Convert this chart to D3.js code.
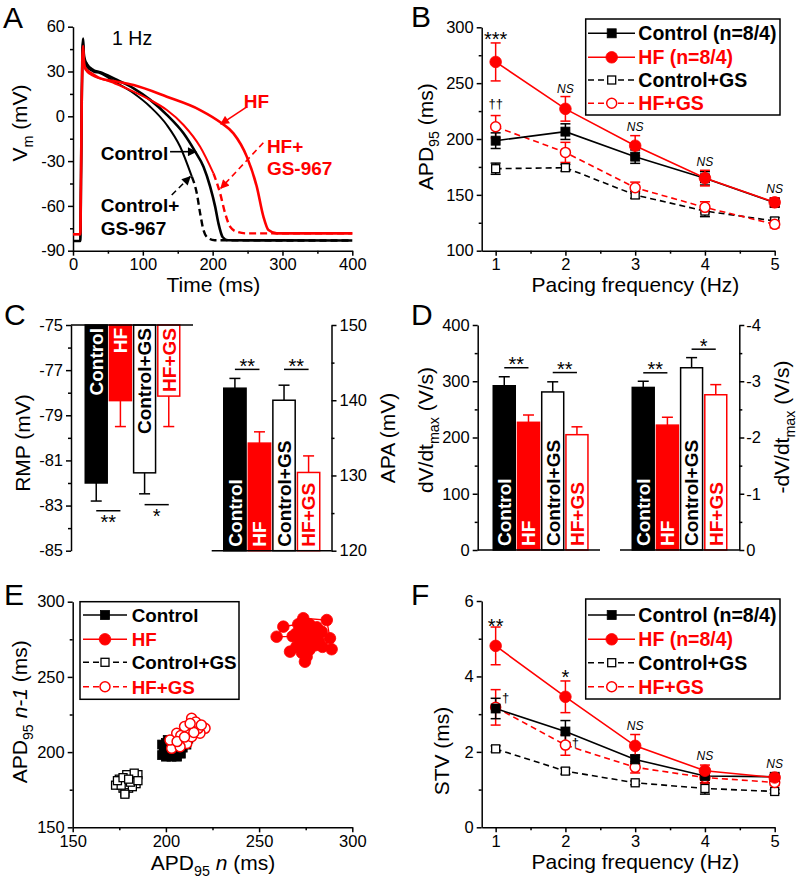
<!DOCTYPE html>
<html><head><meta charset="utf-8">
<script src="https://cdn.jsdelivr.net/npm/d3@7"></script>
<style>body{margin:0;background:#fff} svg{display:block}</style>
</head><body><svg id="chart" width="800" height="884"></svg>
<script>
// ================= DATA =================
// Panel A: action potential traces [time ms, Vm mV]
const traceControl = [[0,-83.5],[10.5,-83.5],[11.5,-40],[12.5,10],[13.5,45],[14.5,52],[15.5,42],[17,38],[20,35],[29,31],[39,29.5],[60,25],[86.8,18.7],[110.6,11],[134.4,1],[158.3,-11.4],[175,-23.7],[186.9,-33.8],[196.4,-47.1],[203.6,-60.5],[208.3,-71.7],[214.5,-81],[222,-83],[400,-83.2]];
const traceControlGS = [[0,-83.5],[10.5,-83.5],[11.5,-40],[12.5,10],[13.5,44],[14.5,50],[15.5,40],[17,36],[20,33],[29,30],[39,28.8],[60,23],[86.8,15.4],[110.6,6.4],[134.4,-5.8],[153.5,-20.4],[170.2,-40.4],[177.3,-51.6],[182.1,-65],[186.9,-76.2],[194,-81.7],[203,-83],[400,-83.2]];
const traceHF = [[0,-79],[10.5,-79],[11.5,-40],[12.5,10],[13.5,40],[14.5,47],[15.5,38],[17,33],[20,31],[29,28],[39,25.4],[60,23.5],[86.8,20.9],[134.4,13.1],[182.1,4.2],[213.1,-4.7],[229.8,-11.4],[248.9,-27],[263.2,-47.1],[272.7,-67.2],[279.9,-76.2],[291.8,-78.4],[400,-78.4]];
const traceHFGS = [[0,-79],[10.5,-79],[11.5,-40],[12.5,10],[13.5,38],[14.5,45],[15.5,36],[17,32],[20,30],[29,27],[39,25.4],[60,22],[86.8,16.5],[110.6,10.9],[134.4,4.2],[158.3,-5.8],[182.1,-20.4],[201.2,-38.2],[210.7,-51.6],[217.9,-65],[225,-73.9],[234.6,-77.3],[248.9,-78.4],[400,-78.4]];
const labelsA = [
  {t:"1 Hz", x:55.9, y:47.7, color:"#000", bold:false},
  {t:"HF", x:244.5, y:5.4, color:"#ff0000", bold:true},
  {t:"HF+", x:277.7, y:-24.8, color:"#ff0000", bold:true},
  {t:"GS-967", x:277.7, y:-39.3, color:"#ff0000", bold:true},
  {t:"Control", x:39.7, y:-29.3, color:"#000", bold:true},
  {t:"Control+", x:39.7, y:-63.9, color:"#000", bold:true},
  {t:"GS-967", x:39.7, y:-79.5, color:"#000", bold:true}
];
const arrowsA = [
  {from:[247.9,6.0], to:[211.6,-5.2], color:"#ff0000", dashed:false},
  {from:[139,-23.7], to:[176.2,-23.7], color:"#000", dashed:false},
  {from:[272.6,-17.7], to:[211.6,-48.2], color:"#ff0000", dashed:true},
  {from:[141.4,-52.7], to:[167.9,-40.4], color:"#000", dashed:true}
];
const ticksAx = [0,100,200,300,400];
const ticksAy = [-90,-60,-30,0,30,60];

// Panel B: APD95 vs pacing frequency
const freq = [1,2,3,4,5];
const apdControl = [198.5,206.6,184.2,164.8,143.0];
const apdControlErr = [7,7,6,6,4];
const apdHF = [269,227,194,165,143.3];
const apdHFErr = [17,11,9,7,4];
const apdControlGS = [173.4,174.3,149.9,135.5,126.6];
const apdControlGSErr = [5,3,3,5,3];
const apdHFGS = [211,188,156.4,138.8,123.6];
const apdHFGSErr = [10,9,5,5,3];
const ticksBy = [100,150,200,250,300];
const sigB = [{x:1,y:283.3,t:"***"},{x:2,y:241,t:"NS"},{x:3,y:207.4,t:"NS"},{x:4,y:176,t:"NS"},{x:5,y:151.4,t:"NS"}];
const dagB = [{x:1,y:228,t:"††"}];

// Panel C / D: bar groups
const groups = ["Control","HF","Control+GS","HF+GS"];
const rmp = [-82.0,-78.35,-81.55,-78.15];
const rmpErr = [0.8,1.15,0.93,1.35];
const apa = [141.6,134.3,140.0,130.4];
const apaErr = [1.3,1.5,2.0,2.2];
const upstroke = [292,227,281,205];
const upstrokeErr = [16,13,18,14];
const downstroke = [-2.89,-2.22,-3.24,-2.76];
const downstrokeErr = [0.11,0.14,0.18,0.18];
const ticksRMP = [-85,-83,-81,-79,-77,-75];
const ticksAPA = [120,130,140,150];
const ticksUp = [0,100,200,300,400];
const ticksDown = [0,-1,-2,-3,-4];
const sigRMP = [{a:0,b:1,y:-83.23,t:"**"},{a:2,b:3,y:-82.96,t:"*"}];
const sigAPA = [{a:0,b:1,y:144.1,t:"**"},{a:2,b:3,y:144.1,t:"**"}];
const sigUp = [{a:0,b:1,y:324,t:"**"},{a:2,b:3,y:315.5,t:"**"}];
const sigDown = [{a:0,b:1,y:-3.15,t:"**"},{a:2,b:3,y:-3.57,t:"*"}];

// Panel E: Poincare plots [APD n, APD n-1]
const poincControl = [[198,198],[200,197],[203,197],[206,197],[208,199],[199,201],[201,203],[204,200],[206,202],[209,203],[198,205],[200,206],[203,205],[205,207],[207,206],[210,208],[211,205],[202,200],[199,199],[204,204],[208,210],[212,209],[206,209],[201,208]];
const poincHF = [[273.7,289.0],[286.3,287.8],[288.0,275.7],[283.6,280.1],[276,283],[271,285],[263.0,283.4],[259.4,276.7],[268,277],[274,278],[278,276],[272,272],[266.6,266.8],[270,270],[276,274],[280,271],[288.9,268.4],[284,270],[277,268],[275.5,263.4],[274.6,260.1],[273,266],[279,279],[281,283],[275,281],[270,279],[277,285],[282,274],[273,275],[278,272]];
const poincControlGS = [[173,178],[175,182],[177,176],[179,180],[181,184],[183,182],[185,185],[184,179],[180,176],[178,173],[176,178],[182,177],[174,181],[179,185],[183,186],[177,183],[181,180],[185,181],[178,172],[180,182]];
const poincHFGS = [[213.8,222.5],[221,215.8],[203.1,202.5],[205.8,212.5],[209.3,208],[216.5,218],[218.3,212.5],[212,213.6],[214.7,216.7],[208,211],[211.2,205.8],[207.6,203.6],[213.8,210.2],[217.4,215.8],[202.2,208],[210,217],[216,220],[219,218],[215,213],[206,207],[210,210],[213,219]];
const ticksE = [150,200,250,300];

// Panel F: STV
const stvControl = [3.15,2.54,1.80,1.36,1.34];
const stvControlErr = [0.27,0.29,0.12,0.10,0.06];
const stvHF = [4.81,3.46,2.16,1.50,1.32];
const stvHFErr = [0.50,0.42,0.30,0.15,0.07];
const stvControlGS = [2.08,1.49,1.18,1.03,0.95];
const stvControlGSErr = [0.08,0.08,0.05,0.15,0.05];
const stvHFGS = [3.18,2.18,1.59,1.32,1.19];
const stvHFGSErr = [0.47,0.27,0.15,0.15,0.08];
const ticksFy = [0,2,4,6];
const sigF = [{x:1,y:5.16,t:"**"},{x:2,y:3.79,t:"*"},{x:3,y:2.58,t:"NS"},{x:4,y:1.78,t:"NS"},{x:5,y:1.56,t:"NS"}];
const dagF = [{x:1,y:3.32,t:"†"},{x:2,y:2.13,t:"†"}];

const legendBF = ["Control (n=8/4)","HF (n=8/4)","Control+GS","HF+GS"];
const legendE = ["Control","HF","Control+GS","HF+GS"];

// ================= DRAWING =================
const FONT = "'Liberation Sans', Arial, Helvetica, sans-serif";
const RED = "#ff0000";
const svg = d3.select("#chart").attr("font-family", FONT);
const defs = svg.append("defs");
[["ahK","#000"],["ahR",RED]].forEach(([id,c])=>{
  defs.append("marker").attr("id",id).attr("viewBox","0 0 10 10").attr("refX",9).attr("refY",5)
    .attr("markerWidth",10).attr("markerHeight",9).attr("markerUnits","userSpaceOnUse").attr("orient","auto")
    .append("path").attr("d","M0,0L10,5L0,10z").attr("fill",c);
});

function styleAxis(g, fs){
  g.attr("font-family",FONT).attr("font-size",fs);
  g.selectAll("path.domain").attr("stroke","#000").attr("stroke-width",1.5);
  g.selectAll(".tick line").attr("stroke","#000").attr("stroke-width",1.5);
  g.selectAll(".tick text").attr("fill","#000");
}
function minorsOf(major){
  const m=[]; for(let i=0;i<major.length-1;i++) m.push((major[i]+major[i+1])/2); return m;
}
function addAxis(axisFn, scale, transform, major, fmt, opts={}){
  const pad = opts.pad ?? 3, fs = opts.fs ?? 16.5, ml = opts.majorLen ?? 5, nl = opts.minorLen ?? 3;
  const g = svg.append("g").attr("transform",transform)
    .call(axisFn(scale).tickValues(major).tickFormat(fmt).tickSizeInner(ml).tickSizeOuter(0).tickPadding(pad));
  styleAxis(g,fs);
  const minor = opts.minor ?? minorsOf(major);
  if(minor.length){
    const gm = svg.append("g").attr("transform",transform)
      .call(axisFn(scale).tickValues(minor).tickFormat("").tickSizeInner(nl).tickSizeOuter(0));
    gm.select(".domain").remove();
    styleAxis(gm,fs);
  }
  return g;
}
const fmtPlain = d => String(d);

function richText(x,y,parts,o={}){
  const size=o.size??21;
  const t = svg.append("text").attr("text-anchor",o.anchor??"middle").attr("font-size",size)
    .attr("font-weight",o.weight??"normal").attr("fill",o.fill??"#000").attr("font-family",FONT);
  if(o.rotate) t.attr("transform",`translate(${x},${y}) rotate(-90)`); else t.attr("x",x).attr("y",y);
  let shift=0;
  parts.forEach(p=>{
    const s=t.append("tspan").text(p.t);
    const target = p.sub ? size*0.28 : 0;
    if(target!==shift){ s.attr("dy",target-shift); shift=target; }
    if(p.sub) s.attr("font-size",size*0.68);
    if(p.it) s.attr("font-style","italic");
  });
  return t;
}
function letter(x,y,s){ svg.append("text").attr("x",x).attr("y",y).attr("font-size",30).attr("fill","#000").text(s); }

function marker(g,type,filled,color,cx,cy){
  if(type==="sq"){
    const s = filled ? 9 : 8;
    g.append("rect").attr("x",cx-s/2).attr("y",cy-s/2).attr("width",s).attr("height",s)
      .attr("fill",filled?color:"#fff").attr("stroke",color).attr("stroke-width",filled?0.8:1.3);
  } else {
    const r = filled ? 5.8 : 5;
    g.append("circle").attr("cx",cx).attr("cy",cy).attr("r",r)
      .attr("fill",filled?color:"#fff").attr("stroke",color).attr("stroke-width",filled?0.8:1.5);
  }
}

// ---------- Panel A ----------
const xA = d3.scaleLinear([0,400],[73,352.3]);
const yA = d3.scaleLinear([-90,60],[250.7,26.7]);
addAxis(d3.axisBottom,xA,`translate(0,${yA(-90)})`,ticksAx,fmtPlain);
addAxis(d3.axisLeft,yA,`translate(${xA(0)},0)`,ticksAy,fmtPlain);
const gA = svg.append("g");
const lineA = d3.line().x(d=>xA(d[0])).y(d=>yA(d[1])).curve(d3.curveMonotoneX);
function drawTrace(data,color,width,dashedTail){
  if(!dashedTail){
    gA.append("path").datum(data).attr("d",lineA).attr("fill","none").attr("stroke",color).attr("stroke-width",width).attr("stroke-linejoin","round");
    return;
  }
  const peak = d3.maxIndex(data,d=>d[1]);
  const k = data.findIndex((d,i)=>i>peak && d[1]<-30);
  gA.append("path").datum(data.slice(0,k+1)).attr("d",lineA).attr("fill","none").attr("stroke",color).attr("stroke-width",width-0.4);
  gA.append("path").datum(data.slice(k)).attr("d",lineA).attr("fill","none").attr("stroke",color).attr("stroke-width",width).attr("stroke-dasharray","7,4");
}
drawTrace(traceControlGS,"#000",2.4,true);
drawTrace(traceControl,"#000",2.6,false);
drawTrace(traceHFGS,RED,2.4,true);
drawTrace(traceHF,RED,2.6,false);
arrowsA.forEach(a=>{
  svg.append("line").attr("x1",xA(a.from[0])).attr("y1",yA(a.from[1])).attr("x2",xA(a.to[0])).attr("y2",yA(a.to[1]))
    .attr("stroke",a.color).attr("stroke-width",1.6).attr("stroke-dasharray",a.dashed?"6,4":null)
    .attr("marker-end",`url(#${a.color===RED?"ahR":"ahK"})`);
});
labelsA.forEach(l=>{
  svg.append("text").attr("x",xA(l.x)).attr("y",yA(l.y)).attr("font-size",l.bold?19:19.5)
    .attr("font-weight",l.bold?"bold":"normal").attr("fill",l.color).text(l.t);
});
richText(213.3,291.7,[{t:"Time (ms)"}]);
richText(26.7,123,[{t:"V"},{t:"m",sub:true},{t:" (mV)"}],{rotate:true});
letter(3,28,"A");

// ---------- Line panels B & F ----------
function linePanel(xS,yS,series,sig,dag,dagDx){
  const g = svg.append("g");
  const line = d3.line().x((d,i)=>xS(freq[i])).y(d=>yS(d));
  series.forEach(s=>{
    g.append("path").datum(s.vals).attr("d",line).attr("fill","none").attr("stroke",s.color)
      .attr("stroke-width",1.6).attr("stroke-dasharray",s.dash);
  });
  series.forEach(s=>{
    s.vals.forEach((v,i)=>{
      const cx=xS(freq[i]), y1=yS(v+s.err[i]), y2=yS(v-s.err[i]);
      g.append("line").attr("x1",cx).attr("x2",cx).attr("y1",y1).attr("y2",y2).attr("stroke",s.color).attr("stroke-width",1.5);
      [y1,y2].forEach(yy=>g.append("line").attr("x1",cx-5).attr("x2",cx+5).attr("y1",yy).attr("y2",yy).attr("stroke",s.color).attr("stroke-width",1.5));
    });
  });
  series.forEach(s=>{
    s.vals.forEach((v,i)=>marker(g,s.marker,s.filled,s.color,xS(freq[i]),yS(v)));
  });
  sig.forEach(a=>{
    const ns = a.t==="NS";
    svg.append("text").attr("x",xS(a.x)).attr("y",yS(a.y)).attr("text-anchor","middle")
      .attr("font-size",ns?12:20).attr("font-style",ns?"italic":"normal").attr("fill","#000").text(a.t);
  });
  dag.forEach(a=>{
    svg.append("text").attr("x",xS(a.x)+dagDx).attr("y",yS(a.y)).attr("text-anchor","middle")
      .attr("font-size",13).attr("fill","#000").text(a.t);
  });
}
function legendBox(x,y,w,h,rows,labels,lx1,lx2,mx,tx,series,fs){
  svg.append("rect").attr("x",x).attr("y",y).attr("width",w).attr("height",h).attr("fill","#fff").attr("stroke","#000").attr("stroke-width",1.5);
  series.forEach((s,i)=>{
    const ry=rows[i];
    svg.append("line").attr("x1",lx1).attr("x2",lx2).attr("y1",ry).attr("y2",ry).attr("stroke",s.color)
      .attr("stroke-width",1.6).attr("stroke-dasharray",s.dash);
    marker(svg,s.marker,s.filled,s.color,mx,ry);
    svg.append("text").attr("x",tx).attr("y",ry+6.8).attr("font-size",fs).attr("font-weight","bold")
      .attr("fill",s.color).text(labels[i]);
  });
}
const DASH="6,4";
// B
const xB = d3.scaleLinear([0.8,5],[481.7,774.7]);
const yB = d3.scaleLinear([100,300],[250.7,27.3]);
addAxis(d3.axisBottom,xB,`translate(0,${yB(100)})`,freq,fmtPlain);
addAxis(d3.axisLeft,yB,`translate(${xB(0.8)},0)`,ticksBy,fmtPlain);
const seriesB = [
  {vals:apdControlGS,err:apdControlGSErr,color:"#000",dash:DASH,marker:"sq",filled:false},
  {vals:apdHFGS,err:apdHFGSErr,color:RED,dash:DASH,marker:"ci",filled:false},
  {vals:apdControl,err:apdControlErr,color:"#000",dash:null,marker:"sq",filled:true},
  {vals:apdHF,err:apdHFErr,color:RED,dash:null,marker:"ci",filled:true}
];
linePanel(xB,yB,seriesB,sigB,dagB,0);
const legSeries = [seriesB[2],seriesB[3],seriesB[0],seriesB[1]];
legendBox(585.7,19,194.3,96,[33.3,57.3,80,103.3],legendBF,588,635,611.7,638.3,legSeries,19.5);
richText(635.5,291.7,[{t:"Pacing frequency (Hz)"}]);
richText(433,136.7,[{t:"APD"},{t:"95",sub:true},{t:" (ms)"}],{rotate:true});
letter(411,27,"B");

// F
const xF = d3.scaleLinear([0.8,5],[481.7,774.7]);
const yF = d3.scaleLinear([0,6],[827.3,601]);
addAxis(d3.axisBottom,xF,`translate(0,${yF(0)})`,freq,fmtPlain);
addAxis(d3.axisLeft,yF,`translate(${xF(0.8)},0)`,ticksFy,fmtPlain);
const seriesF = [
  {vals:stvControlGS,err:stvControlGSErr,color:"#000",dash:DASH,marker:"sq",filled:false},
  {vals:stvHFGS,err:stvHFGSErr,color:RED,dash:DASH,marker:"ci",filled:false},
  {vals:stvControl,err:stvControlErr,color:"#000",dash:null,marker:"sq",filled:true},
  {vals:stvHF,err:stvHFErr,color:RED,dash:null,marker:"ci",filled:true}
];
linePanel(xF,yF,seriesF,sigF,dagF,10);
legendBox(585.7,599,194.3,100,[615,639.3,662.7,686.7],legendBF,588,635,611.7,638.3,[seriesF[2],seriesF[3],seriesF[0],seriesF[1]],19.5);
richText(635.5,869.3,[{t:"Pacing frequency (Hz)"}]);
richText(449,751,[{t:"STV (ms)"}],{rotate:true});
letter(411,605,"F");

// ---------- Bar panels C & D ----------
const barStyle = [
  {fill:"#000",stroke:"#000",text:"#fff",err:"#000"},
  {fill:RED,stroke:RED,text:"#fff",err:RED},
  {fill:"#fff",stroke:"#000",text:"#000",err:"#000"},
  {fill:"#fff",stroke:RED,text:RED,err:RED}
];
function barGroup(range,yS,base,vals,errs,labelMode,sig,sigBelow){
  const xS = d3.scaleBand().domain(groups).range(range).paddingInner(0.03);
  const bw = xS.bandwidth();
  groups.forEach((gname,i)=>{
    const st=barStyle[i], v=vals[i], e=errs[i];
    const x=xS(gname), cx=x+bw/2;
    const yb=yS(base), yv=yS(v);
    const ye = yS(v + (v>=base ? e : -e));
    svg.append("line").attr("x1",cx).attr("x2",cx).attr("y1",yv).attr("y2",ye).attr("stroke",st.err).attr("stroke-width",1.5);
    svg.append("line").attr("x1",cx-5.5).attr("x2",cx+5.5).attr("y1",ye).attr("y2",ye).attr("stroke",st.err).attr("stroke-width",1.5);
    svg.append("rect").attr("x",x+0.75).attr("y",Math.min(yb,yv)).attr("width",bw-1.5).attr("height",Math.abs(yv-yb))
      .attr("fill",st.fill).attr("stroke",st.stroke).attr("stroke-width",1.5);
    const t = svg.append("text").attr("font-size",19).attr("font-weight","bold").attr("fill",st.text).text(gname);
    if(labelMode==="top") t.attr("text-anchor","end").attr("transform",`translate(${cx+6.8},${yb+3}) rotate(-90)`);
    else t.attr("text-anchor","start").attr("transform",`translate(${cx+6.8},${yb-4}) rotate(-90)`);
  });
  sig.forEach(s=>{
    const x1=xS(groups[s.a])+bw/2, x2=xS(groups[s.b])+bw/2, yy=yS(s.y);
    svg.append("line").attr("x1",x1).attr("x2",x2).attr("y1",yy).attr("y2",yy).attr("stroke","#000").attr("stroke-width",1.5);
    svg.append("text").attr("x",(x1+x2)/2).attr("y",sigBelow?yy+18.5:yy+3.5).attr("text-anchor","middle")
      .attr("font-size",20).attr("fill","#000").text(s.t);
  });
}
// C: RMP
const yRMP = d3.scaleLinear([-85,-75],[550.7,325]);
addAxis(d3.axisLeft,yRMP,"translate(71,0)",ticksRMP,fmtPlain);
barGroup([84.5,180.5],yRMP,-75,rmp,rmpErr,"top",sigRMP,true);
svg.append("line").attr("x1",71).attr("x2",193).attr("y1",yRMP(-75)).attr("y2",yRMP(-75)).attr("stroke","#000").attr("stroke-width",1.5);
// C: APA
const yAPA = d3.scaleLinear([120,150],[550.7,325]);
barGroup([223,320.5],yAPA,120,apa,apaErr,"bottom",sigAPA,false);
svg.append("line").attr("x1",211.7).attr("x2",331.5).attr("y1",yAPA(120)).attr("y2",yAPA(120)).attr("stroke","#000").attr("stroke-width",1.5);
addAxis(d3.axisRight,yAPA,"translate(331.5,0)",ticksAPA,fmtPlain);
richText(30,443,[{t:"RMP (mV)"}],{rotate:true});
richText(395,438,[{t:"APA (mV)"}],{rotate:true});
letter(4,325,"C");

// D: upstroke
const yUp = d3.scaleLinear([0,400],[550,325]);
addAxis(d3.axisLeft,yUp,"translate(477.7,0)",ticksUp,fmtPlain);
barGroup([492.5,588.7],yUp,0,upstroke,upstrokeErr,"bottom",sigUp,false);
svg.append("line").attr("x1",477.7).attr("x2",600).attr("y1",yUp(0)).attr("y2",yUp(0)).attr("stroke","#000").attr("stroke-width",1.5);
// D: downstroke
const yDown = d3.scaleLinear([0,-4],[550,325]);
barGroup([631.5,727.5],yDown,0,downstroke,downstrokeErr,"bottom",sigDown,false);
svg.append("line").attr("x1",620).attr("x2",739.3).attr("y1",yDown(0)).attr("y2",yDown(0)).attr("stroke","#000").attr("stroke-width",1.5);
addAxis(d3.axisRight,yDown,"translate(739.3,0)",ticksDown,fmtPlain,{pad:2});
richText(433,430,[{t:"dV/dt"},{t:"max",sub:true},{t:" (V/s)"}],{rotate:true});
richText(789,427,[{t:"-dV/dt"},{t:"max",sub:true},{t:" (V/s)"}],{rotate:true});
letter(411,325,"D");

// ---------- Panel E ----------
const xE = d3.scaleLinear([150,300],[72.7,352.3]);
const yE = d3.scaleLinear([150,300],[827.3,601.7]);
addAxis(d3.axisBottom,xE,`translate(0,${yE(150)})`,ticksE,fmtPlain);
addAxis(d3.axisLeft,yE,`translate(${xE(150)},0)`,ticksE,fmtPlain);
const seriesE = [
  {pts:poincControlGS,color:"#000",dash:DASH,marker:"sq",filled:false},
  {pts:poincControl,color:"#000",dash:null,marker:"sq",filled:true},
  {pts:poincHFGS,color:RED,dash:DASH,marker:"ci",filled:false},
  {pts:poincHF,color:RED,dash:null,marker:"ci",filled:true}
];
const lineE = d3.line().x(d=>xE(d[0])).y(d=>yE(d[1]));
const gE = svg.append("g");
seriesE.forEach(s=>{
  gE.append("path").datum(s.pts).attr("d",lineE).attr("fill","none").attr("stroke",s.color).attr("stroke-width",1.3).attr("stroke-dasharray",s.dash);
  s.pts.forEach(p=>marker(gE,s.marker,s.filled,s.color,xE(p[0]),yE(p[1])));
});
legendBox(80,601.7,159,97.6,[615,639.3,662.3,686.7],legendE,83,127,105,131.7,[seriesE[1],seriesE[3],seriesE[0],seriesE[2]],18.8);
richText(213,870,[{t:"APD"},{t:"95",sub:true},{t:" "},{t:"n",it:true},{t:" (ms)"}]);
richText(27,711.7,[{t:"APD"},{t:"95",sub:true},{t:" "},{t:"n-1",it:true},{t:" (ms)"}],{rotate:true});
letter(4,605,"E");
</script>
</body></html>
